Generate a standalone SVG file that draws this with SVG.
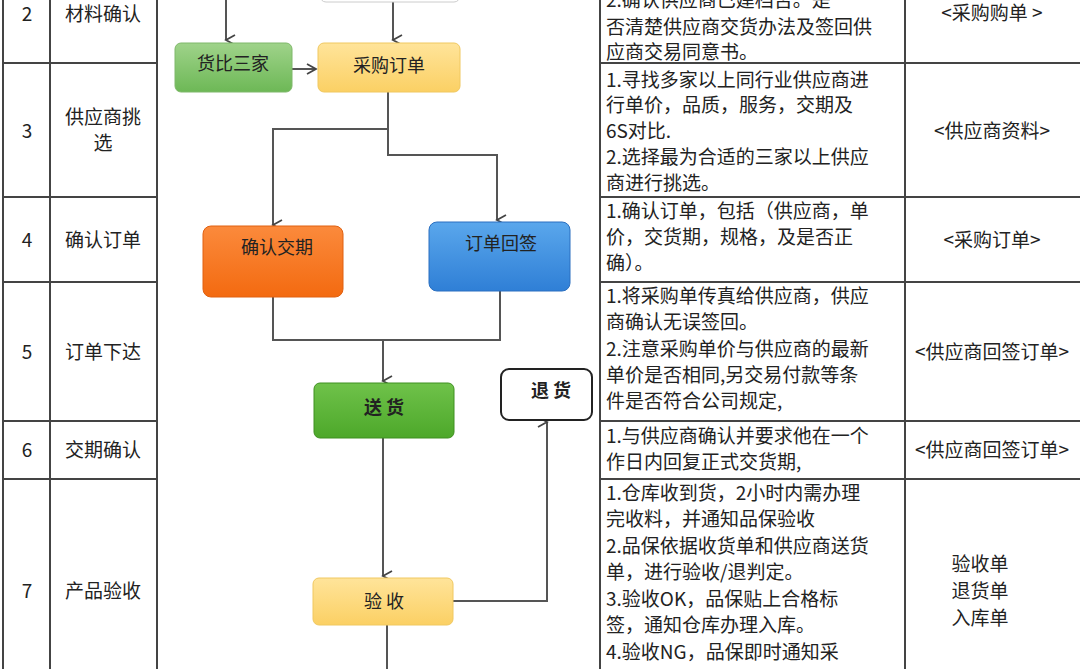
<svg xmlns="http://www.w3.org/2000/svg" width="1080" height="669" viewBox="0 0 1080 669">
<defs>
<marker id="ah" markerWidth="12" markerHeight="12" refX="6" refY="10" orient="auto" markerUnits="userSpaceOnUse"><path d="M1,1 L6,10 L11,1" fill="none" stroke="#444" stroke-width="1.8"/></marker>
<marker id="ar" markerWidth="12" markerHeight="12" refX="10" refY="6" orient="auto" markerUnits="userSpaceOnUse"><path d="M1,1 L10,6 L1,11" fill="none" stroke="#444" stroke-width="1.8"/></marker>
<linearGradient id="gG" x1="0" y1="0" x2="0" y2="1"><stop offset="0" stop-color="#9fd38a"/><stop offset="1" stop-color="#6db856"/></linearGradient>
<linearGradient id="gY" x1="0" y1="0" x2="0" y2="1"><stop offset="0" stop-color="#ffe49a"/><stop offset="1" stop-color="#fbd064"/></linearGradient>
<linearGradient id="gO" x1="0" y1="0" x2="0" y2="1"><stop offset="0" stop-color="#fb8a3c"/><stop offset="1" stop-color="#f36a10"/></linearGradient>
<linearGradient id="gB" x1="0" y1="0" x2="0" y2="1"><stop offset="0" stop-color="#5aa7ec"/><stop offset="1" stop-color="#2f7fd6"/></linearGradient>
<linearGradient id="gG2" x1="0" y1="0" x2="0" y2="1"><stop offset="0" stop-color="#6fc24a"/><stop offset="1" stop-color="#4da82a"/></linearGradient>
</defs>
<style>
text{font-family:"Noto Sans CJK SC","Liberation Sans",sans-serif;fill:#222}
.t{font-size:19px}
.c{text-anchor:middle}
.n{font-size:18px;text-anchor:middle}
.b{font-size:18px;text-anchor:middle;font-weight:bold}
.g{stroke:#444;stroke-width:2}
.cn{fill:none;stroke:#555;stroke-width:2}
</style>
<rect width="1080" height="669" fill="#fff"/>
<g id="table">
<g class="g" fill="none">
<line x1="3" y1="0" x2="3" y2="669"/><line x1="50" y1="0" x2="50" y2="669"/><line x1="157" y1="0" x2="157" y2="669"/>
<line x1="600" y1="0" x2="600" y2="669"/><line x1="905" y1="0" x2="905" y2="669"/>
<line x1="3" y1="63" x2="157" y2="63"/><line x1="3" y1="197" x2="157" y2="197"/><line x1="3" y1="282" x2="157" y2="282"/><line x1="3" y1="421" x2="157" y2="421"/><line x1="3" y1="479" x2="157" y2="479"/>
<line x1="600" y1="63" x2="1080" y2="63"/><line x1="600" y1="197" x2="1080" y2="197"/><line x1="600" y1="282" x2="1080" y2="282"/><line x1="600" y1="421" x2="1080" y2="421"/><line x1="600" y1="479" x2="1080" y2="479"/>
</g>
<g class="t">
<text x="27" y="21" class="c">2</text><text x="103" y="21" class="c">材料确认</text>
<text x="27" y="138" class="c">3</text><text x="103" y="124" class="c">供应商挑</text><text x="103" y="150" class="c">选</text>
<text x="27" y="247" class="c">4</text><text x="103" y="247" class="c">确认订单</text>
<text x="27" y="359" class="c">5</text><text x="103" y="359" class="c">订单下达</text>
<text x="27" y="457" class="c">6</text><text x="103" y="457" class="c">交期确认</text>
<text x="27" y="598" class="c">7</text><text x="103" y="598" class="c">产品验收</text>
<text x="606" y="7">2.确认供应商已建档否。是</text>
<text x="606" y="34">否清楚供应商交货办法及签回供</text>
<text x="606" y="59">应商交易同意书。</text>
<text x="606" y="87">1.寻找多家以上同行业供应商进</text>
<text x="606" y="112">行单价，品质，服务，交期及</text>
<text x="606" y="138">6S对比.</text>
<text x="606" y="164">2.选择最为合适的三家以上供应</text>
<text x="606" y="190">商进行挑选。</text>
<text x="606" y="218">1.确认订单，包括（供应商，单</text>
<text x="606" y="244">价，交货期，规格，及是否正</text>
<text x="606" y="270">确）。</text>
<text x="606" y="303">1.将采购单传真给供应商，供应</text>
<text x="606" y="329">商确认无误签回。</text>
<text x="606" y="356">2.注意采购单价与供应商的最新</text>
<text x="606" y="382">单价是否相同,另交易付款等条</text>
<text x="606" y="408">件是否符合公司规定,</text>
<text x="606" y="443">1.与供应商确认并要求他在一个</text>
<text x="606" y="469">作日内回复正式交货期,</text>
<text x="606" y="500">1.仓库收到货，2小时内需办理</text>
<text x="606" y="526">完收料，并通知品保验收</text>
<text x="606" y="553">2.品保依据收货单和供应商送货</text>
<text x="606" y="579">单，进行验收/退判定。</text>
<text x="606" y="606">3.验收OK，品保贴上合格标</text>
<text x="606" y="632">签，通知仓库办理入库。</text>
<text x="606" y="659">4.验收NG，品保即时通知采</text>
<text x="992" y="20" class="c">&lt;采购购单 &gt;</text>
<text x="992" y="138" class="c">&lt;供应商资料&gt;</text>
<text x="992" y="247" class="c">&lt;采购订单&gt;</text>
<text x="992" y="359" class="c">&lt;供应商回签订单&gt;</text>
<text x="992" y="457" class="c">&lt;供应商回签订单&gt;</text>
<text x="980" y="571" class="c">验收单</text>
<text x="980" y="598" class="c">退货单</text>
<text x="980" y="625" class="c">入库单</text>
</g>
</g>
<g id="connectors">
<path class="cn" d="M226,0 V40" marker-end="url(#ah)"/>
<path class="cn" d="M393,0 V40" marker-end="url(#ah)"/>
<path class="cn" d="M292,69 H316" marker-end="url(#ar)"/>
<path class="cn" d="M388,92 V155 H497 V220" marker-end="url(#ah)"/>
<path class="cn" d="M388,129 H273 V225" marker-end="url(#ah)"/>
<path class="cn" d="M273,296 V340 H500 V290"/>
<path class="cn" d="M383,340 V381" marker-end="url(#ah)"/>
<path class="cn" d="M383,438 V576" marker-end="url(#ah)"/>
<path class="cn" d="M453,601 H547 V422" marker-end="url(#ah)"/>
<path class="cn" d="M387,625 V669"/>
</g>
<g id="n-top"><rect x="320" y="-20" width="140" height="22" rx="6" fill="#fff" stroke="#ccc"/></g>
<g id="n-hbsj"><rect x="175" y="43" width="117" height="49" rx="6" fill="url(#gG)" stroke="#7fb86a"/><text x="233" y="70" class="n">货比三家</text></g>
<g id="n-cgdd"><rect x="318" y="43" width="142" height="49" rx="6" fill="url(#gY)" stroke="#f0c860"/><text x="389" y="72" class="n">采购订单</text></g>
<g id="n-qrjq"><rect x="203" y="226" width="140" height="71" rx="8" fill="url(#gO)" stroke="#e06010"/><text x="277" y="254" class="n">确认交期</text></g>
<g id="n-ddhq"><rect x="429" y="222" width="141" height="69" rx="8" fill="url(#gB)" stroke="#2a6fc0"/><text x="501" y="250" class="n">订单回签</text></g>
<g id="n-sh"><rect x="314" y="383" width="140" height="55" rx="6" fill="url(#gG2)" stroke="#3f9020"/><text x="384" y="414" class="b">送  货</text></g>
<g id="n-th"><rect x="501" y="369" width="91" height="51" rx="8" fill="#fff" stroke="#222" stroke-width="2"/><text x="551" y="397" class="b">退  货</text></g>
<g id="n-ys"><rect x="313" y="578" width="140" height="47" rx="6" fill="url(#gY)" stroke="#f0c860"/><text x="384" y="608" class="n">验  收</text></g>
</svg>
